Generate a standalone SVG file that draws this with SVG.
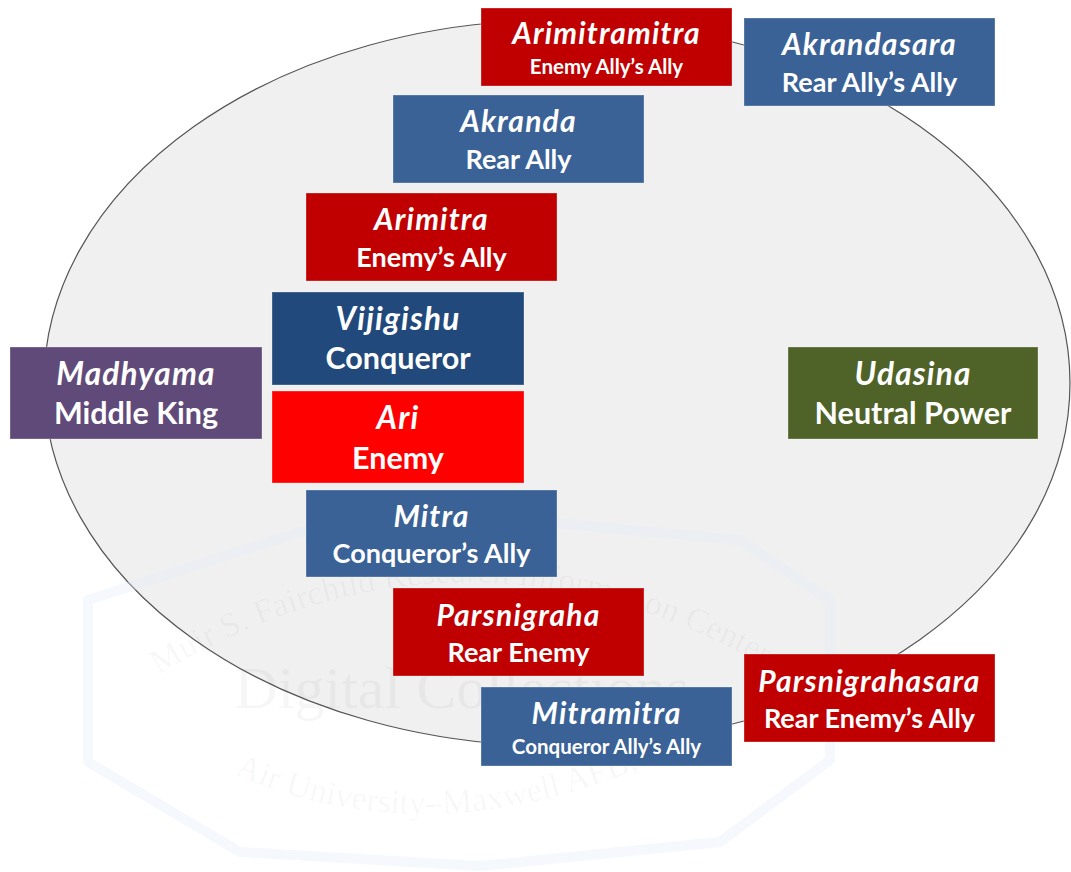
<svg xmlns="http://www.w3.org/2000/svg" width="1071" height="872" viewBox="0 0 1071 872">
  <style>
    .t1 { font-family: Lato, "Open Sans", "Liberation Sans", sans-serif; font-weight: bold; font-style: italic; font-size: 30px; letter-spacing: 1.2px; fill: #ffffff; text-anchor: middle; }
    .t2 { font-family: Lato, "Open Sans", "Liberation Sans", sans-serif; font-weight: bold; font-size: 27px; fill: #ffffff; text-anchor: middle; }
    .b1 { font-family: Lato, "Open Sans", "Liberation Sans", sans-serif; font-weight: bold; font-style: italic; font-size: 31.5px; letter-spacing: 1.2px; fill: #ffffff; text-anchor: middle; }
    .b2 { font-family: Lato, "Open Sans", "Liberation Sans", sans-serif; font-weight: bold; font-size: 30.5px; fill: #ffffff; text-anchor: middle; }
    .ts { font-family: Lato, "Open Sans", "Liberation Sans", sans-serif; font-weight: bold; font-size: 20.5px; fill: #ffffff; text-anchor: middle; }
    .box { stroke: #ffffff; stroke-opacity: 0.3; stroke-width: 1; }
    .red { fill: #c00000; }
    .blue { fill: #3a6296; }
    .dblue { fill: #22497c; }
    .bred { fill: #ff0000; }
    .purple { fill: #5f4a7a; }
    .olive { fill: #4f6228; }
    .wm { font-family: "Liberation Serif", "DejaVu Serif", serif; fill: #000000; fill-opacity: 0.035; }
  </style>
  <defs>
    <path id="arcTop" d="M 118 700 Q 460 470 805 690"/>
    <path id="arcBot" d="M 215 765 Q 440 875 705 738"/>
  </defs>
  <rect x="0" y="0" width="1071" height="872" fill="#ffffff"/>
  <ellipse id="ring" cx="557" cy="383" rx="513" ry="363" fill="#f0f0f0" stroke="#555555" stroke-width="1.2"/>

  <g id="watermark">
    <polygon points="88,600 300,532 520,520 740,540 830,600 830,760 720,842 480,866 240,852 88,762" fill="none" stroke="#e3ebf5" stroke-opacity="0.35" stroke-width="10" stroke-linejoin="round"/>
    <text class="wm" font-size="34"><textPath href="#arcTop" startOffset="50%" text-anchor="middle">Muir S. Fairchild Research Information Center</textPath></text>
    <text class="wm" x="462" y="708" font-size="60" text-anchor="middle">Digital Collections</text>
    <text class="wm" font-size="34"><textPath href="#arcBot" startOffset="50%" text-anchor="middle">Air University–Maxwell AFB, AL</textPath></text>
  </g>

  <g id="arimitramitra">
    <rect class="box red" x="481" y="8" width="251" height="78"/>
    <text class="t1" x="606.5" y="44">Arimitramitra</text>
    <text class="ts" x="606.5" y="74">Enemy Ally’s Ally</text>
  </g>
  <g id="akrandasara">
    <rect class="box blue" x="744" y="18" width="251" height="88"/>
    <text class="t1" x="869.5" y="55">Akrandasara</text>
    <text class="t2" x="869.5" y="92">Rear Ally’s Ally</text>
  </g>
  <g id="akranda">
    <rect class="box blue" x="393" y="95" width="251" height="88"/>
    <text class="t1" x="518.5" y="132">Akranda</text>
    <text class="t2" x="518.5" y="169">Rear Ally</text>
  </g>
  <g id="arimitra">
    <rect class="box red" x="306" y="193" width="251" height="88"/>
    <text class="t1" x="431.5" y="230">Arimitra</text>
    <text class="t2" x="431.5" y="267">Enemy’s Ally</text>
  </g>
  <g id="vijigishu">
    <rect class="box dblue" x="272" y="292" width="252" height="93"/>
    <text class="b1" x="398" y="330">Vijigishu</text>
    <text class="b2" x="398" y="369">Conqueror</text>
  </g>
  <g id="madhyama">
    <rect class="box purple" x="10" y="347" width="252" height="92"/>
    <text class="b1" x="136" y="385">Madhyama</text>
    <text class="b2" x="136" y="424">Middle King</text>
  </g>
  <g id="ari">
    <rect class="box bred" x="272" y="391" width="252" height="92"/>
    <text class="b1" x="398" y="429">Ari</text>
    <text class="b2" x="398" y="469">Enemy</text>
  </g>
  <g id="udasina">
    <rect class="box olive" x="788" y="347" width="250" height="92"/>
    <text class="b1" x="913" y="385">Udasina</text>
    <text class="b2" x="913" y="424">Neutral Power</text>
  </g>
  <g id="mitra">
    <rect class="box blue" x="306" y="490" width="251" height="87"/>
    <text class="t1" x="431.5" y="527">Mitra</text>
    <text class="t2" x="431.5" y="563">Conqueror’s Ally</text>
  </g>
  <g id="parsnigraha">
    <rect class="box red" x="393" y="588" width="251" height="88"/>
    <text class="t1" x="518.5" y="626">Parsnigraha</text>
    <text class="t2" x="518.5" y="662">Rear Enemy</text>
  </g>
  <g id="mitramitra">
    <rect class="box blue" x="481" y="687" width="251" height="79"/>
    <text class="t1" x="606.5" y="724">Mitramitra</text>
    <text class="ts" x="606.5" y="754">Conqueror Ally’s Ally</text>
  </g>
  <g id="parsnigrahasara">
    <rect class="box red" x="744" y="654" width="251" height="88"/>
    <text class="t1" x="869.5" y="692">Parsnigrahasara</text>
    <text class="t2" x="869.5" y="728">Rear Enemy’s Ally</text>
  </g>
</svg>
